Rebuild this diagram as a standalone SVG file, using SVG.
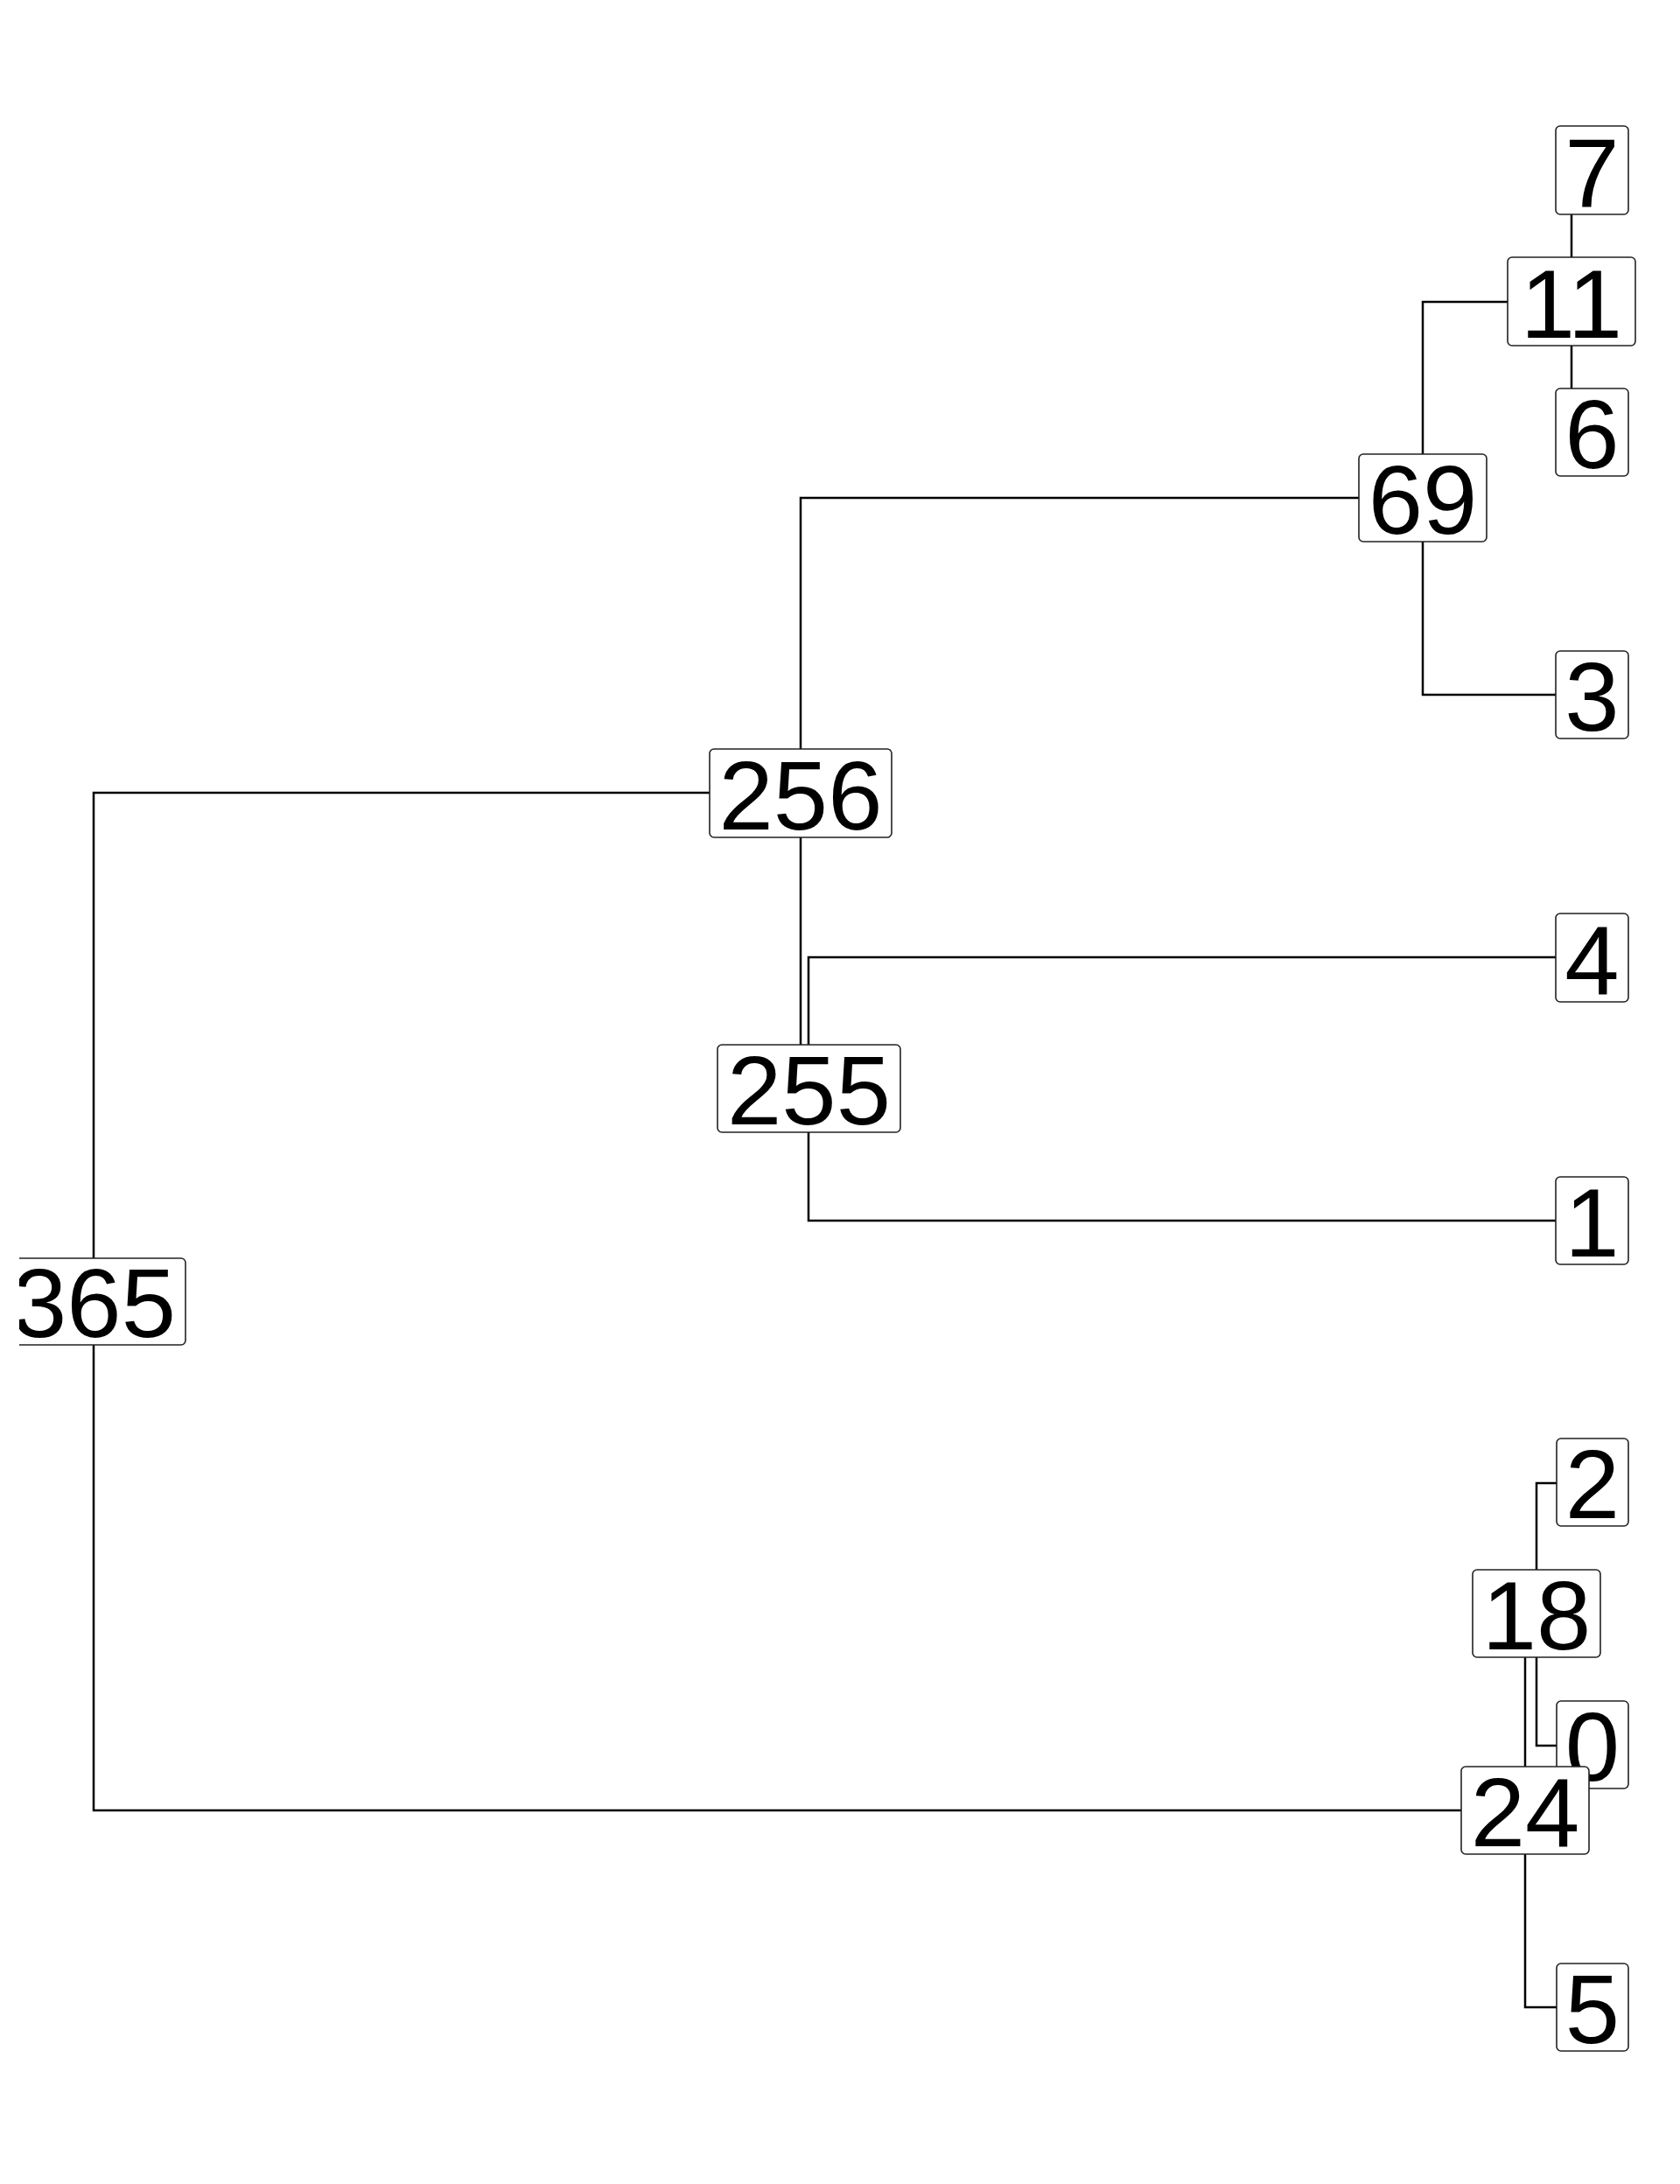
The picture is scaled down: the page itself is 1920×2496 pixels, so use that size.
<svg xmlns="http://www.w3.org/2000/svg" width="1920" height="2496" viewBox="0 0 1920 2496">
<style>
.edge{fill:none;stroke:#000;stroke-width:2.5}
.box{fill:#fff;stroke:#222;stroke-width:1.6}
.lbl{font-family:"Liberation Sans",Arial,sans-serif;font-size:112px;fill:#000;text-anchor:middle}
</style>
<defs>
<clipPath id="plot"><rect x="22" y="0" width="1898" height="2496"/></clipPath>
</defs>
<rect width="1920" height="2496" fill="#fff"/>
<g id="connectors">
<path class="edge" d="M1796,245 V294"/>
<path class="edge" d="M1796,395 V444"/>
<path class="edge" d="M1626,519 V345 H1723"/>
<path class="edge" d="M1626,619 V794 H1778"/>
<path class="edge" d="M915,856 V569 H1553"/>
<path class="edge" d="M915,957 V1194"/>
<path class="edge" d="M924,1194 V1094 H1778"/>
<path class="edge" d="M924,1294 V1395 H1778"/>
<path class="edge" d="M107,1438 V906 H811"/>
<path class="edge" d="M107,1537 V2069 H1670"/>
<path class="edge" d="M1756,1794 V1695 H1779"/>
<path class="edge" d="M1756,1894 V1995 H1779"/>
<path class="edge" d="M1743,2019 V1894"/>
<path class="edge" d="M1743,2119 V2294 H1779"/>
</g>
<g id="n7"><rect class="box" x="1778" y="144" width="83" height="101" rx="5"/><text class="lbl" x="1819.5" y="236">7</text></g>
<g id="n11"><rect class="box" x="1723" y="294" width="146" height="101" rx="5"/><text class="lbl" x="1796" y="386">11</text></g>
<g id="n6"><rect class="box" x="1778" y="444" width="83" height="100" rx="5"/><text class="lbl" x="1819.5" y="535">6</text></g>
<g id="n69"><rect class="box" x="1553" y="519" width="146" height="100" rx="5"/><text class="lbl" x="1626" y="610">69</text></g>
<g id="n3"><rect class="box" x="1778" y="744" width="83" height="100" rx="5"/><text class="lbl" x="1819.5" y="835">3</text></g>
<g id="n256"><rect class="box" x="811" y="856" width="208" height="101" rx="5"/><text class="lbl" x="915" y="948">256</text></g>
<g id="n4"><rect class="box" x="1778" y="1044" width="83" height="101" rx="5"/><text class="lbl" x="1819.5" y="1136">4</text></g>
<g id="n255"><rect class="box" x="820" y="1194" width="209" height="100" rx="5"/><text class="lbl" x="924.5" y="1285">255</text></g>
<g id="n1"><rect class="box" x="1778" y="1345" width="83" height="100" rx="5"/><text class="lbl" x="1819.5" y="1436">1</text></g>
<g id="n365" clip-path="url(#plot)"><rect class="box" x="3" y="1438" width="209" height="99" rx="5"/><text class="lbl" x="107.5" y="1528">365</text></g>
<g id="n2"><rect class="box" x="1779" y="1644" width="82" height="100" rx="5"/><text class="lbl" x="1820" y="1735">2</text></g>
<g id="n18"><rect class="box" x="1683" y="1794" width="146" height="100" rx="5"/><text class="lbl" x="1756" y="1885">18</text></g>
<g id="n0"><rect class="box" x="1779" y="1944" width="82" height="100" rx="5"/><text class="lbl" x="1820" y="2035">0</text></g>
<g id="n24"><rect class="box" x="1670" y="2019" width="146" height="100" rx="5"/><text class="lbl" x="1743" y="2110">24</text></g>
<g id="n5"><rect class="box" x="1779" y="2244" width="82" height="100" rx="5"/><text class="lbl" x="1820" y="2335">5</text></g>
</svg>
